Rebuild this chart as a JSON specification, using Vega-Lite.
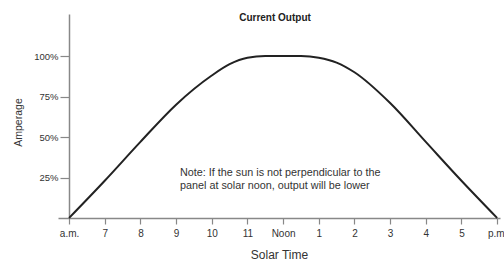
{
  "$schema": "https://vega.github.io/schema/vega-lite/v6.json",
  "width": 442,
  "height": 204,
  "autosize": {"type": "none"},
  "padding": {"left": 58, "top": 14, "right": 4, "bottom": 42},
  "background": "white",
  "config": {"view": {"stroke": null}, "font": "Liberation Sans"},
  "title": {
    "text": "Current Output",
    "fontSize": 10,
    "fontWeight": "bold",
    "color": "#222",
    "anchor": "middle",
    "dx": -4,
    "offset": -9,
    "font": "Liberation Sans"
  },
  "encoding": {
    "x": {
      "field": "hour", "type": "quantitative",
      "scale": {"domain": [5.69, 18.08], "nice": false, "zero": false},
      "axis": {
        "values": [6, 7, 8, 9, 10, 11, 12, 13, 14, 15, 16, 17, 18],
        "labelExpr": "datum.value == 6 ? 'a.m.' : datum.value == 12 ? 'Noon' : datum.value == 18 ? 'p.m.' : format(datum.value % 12, 'd')",
        "grid": false,
        "domainColor": "#888",
        "domainWidth": 1.5,
        "tickColor": "#888",
        "tickWidth": 1.2,
        "tickSize": 6,
        "labelColor": "#333",
        "labelFontSize": 10,
        "labelPadding": 4,
        "labelFlush": false,
        "labelOverlap": false,
        "labelBound": false,
        "title": "Solar Time",
        "titleFontSize": 12,
        "titleFontWeight": "normal",
        "titleColor": "#333",
        "titlePadding": 11
      }
    },
    "y": {
      "field": "pct", "type": "quantitative",
      "scale": {"domain": [0, 126], "nice": false},
      "axis": {
        "values": [25, 50, 75, 100],
        "labelExpr": "datum.value + '%'",
        "offset": -11,
        "grid": false,
        "domainColor": "#888",
        "domainWidth": 1.5,
        "tickColor": "#888",
        "tickWidth": 1.2,
        "tickSize": 9,
        "labelColor": "#333",
        "labelFontSize": 9.5,
        "labelPadding": 2,
        "title": "Amperage",
        "titleFontSize": 10.5,
        "titleFontWeight": "normal",
        "titleColor": "#333",
        "titleX": -51,
        "titleY": 108,
        "titleAngle": -90,
        "titleAlign": "center",
        "titleBaseline": "middle"
      }
    }
  },
  "layer": [
    {
      "data": {"values": [
        {"hour": 6, "pct": 0},
        {"hour": 7, "pct": 23},
        {"hour": 8, "pct": 47},
        {"hour": 9, "pct": 70},
        {"hour": 10, "pct": 88},
        {"hour": 10.5, "pct": 95},
        {"hour": 11, "pct": 99},
        {"hour": 11.5, "pct": 100},
        {"hour": 12, "pct": 100},
        {"hour": 12.5, "pct": 100},
        {"hour": 13, "pct": 99},
        {"hour": 13.5, "pct": 96},
        {"hour": 14, "pct": 90},
        {"hour": 15, "pct": 71},
        {"hour": 16, "pct": 47},
        {"hour": 17, "pct": 23},
        {"hour": 18, "pct": 0}
      ]},
      "mark": {"type": "line", "color": "#222", "strokeWidth": 2, "interpolate": "monotone"}
    },
    {
      "data": {"values": [
        {"hour": 9.11, "pct": 27.8, "note": "Note: If the sun is not perpendicular to the\npanel at solar noon, output will be lower"}
      ]},
      "mark": {"type": "text", "align": "left", "baseline": "middle", "fontSize": 10.8, "color": "#333", "lineBreak": "\n", "lineHeight": 13},
      "encoding": {
        "text": {"field": "note"}
      }
    }
  ]
}
